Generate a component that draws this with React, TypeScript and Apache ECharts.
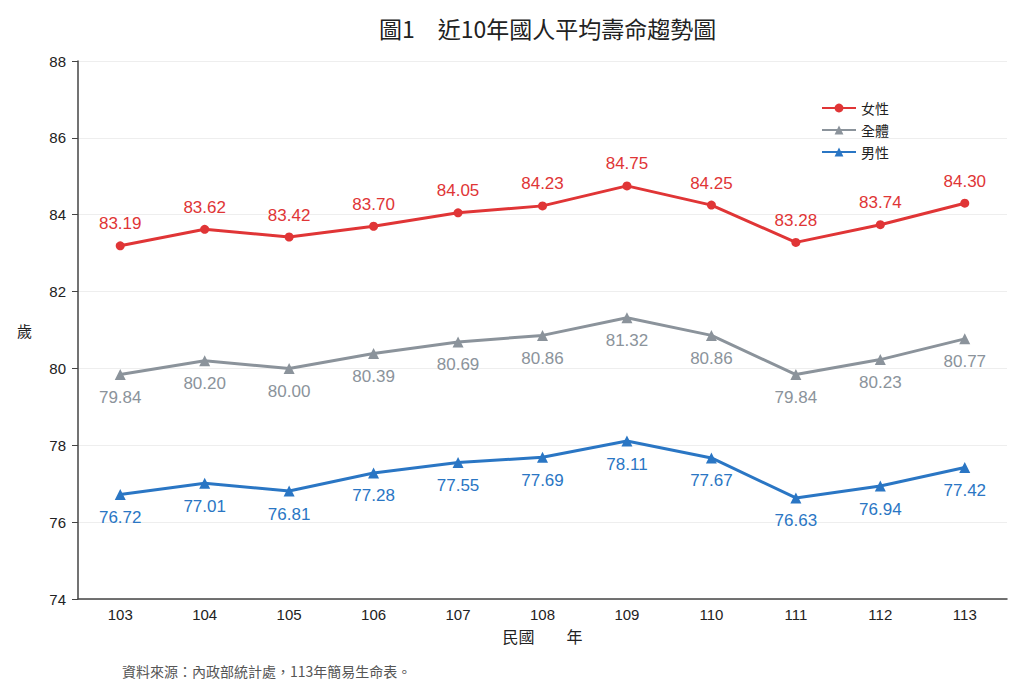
import React, { useEffect, useRef } from 'react'
import * as echarts from 'echarts'

const years = ['103', '104', '105', '106', '107', '108', '109', '110', '111', '112', '113']
const female = [83.19, 83.62, 83.42, 83.70, 84.05, 84.23, 84.75, 84.25, 83.28, 83.74, 84.30]
const overall = [79.84, 80.20, 80.00, 80.39, 80.69, 80.86, 81.32, 80.86, 79.84, 80.23, 80.77]
const male = [76.72, 77.01, 76.81, 77.28, 77.55, 77.69, 78.11, 77.67, 76.63, 76.94, 77.42]

const FONT = '"Liberation Sans", "Noto Sans CJK TC", sans-serif'
const CJK = '"Noto Sans CJK TC", sans-serif'

const RED = '#e03536'
const GRAY = '#8b939b'
const BLUE = '#2a76c4'

const App = () => {
  const chartRef = useRef<HTMLDivElement>(null)

  useEffect(() => {
    if (!chartRef.current) return
    const chart = echarts.init(chartRef.current, null, { renderer: 'svg' })

    const mkSeries = (name: string, data: number[], color: string, symbol: string, pos: string) => ({
      name,
      type: 'line',
      data,
      symbol,
      symbolSize: symbol === 'circle' ? 9 : 11,
      lineStyle: { color, width: 3 },
      itemStyle: { color },
      label: {
        show: true,
        position: pos,
        distance: 9,
        color,
        fontSize: 17,
        fontFamily: FONT,
        formatter: (p: any) => p.value.toFixed(2),
      },
    })

    chart.setOption({
      animation: false,
      title: {
        text: '圖1　近10年國人平均壽命趨勢圖',
        left: 374,
        top: 11,
        textStyle: { fontSize: 23, fontWeight: 'normal', color: '#222', fontFamily: CJK },
      },
      legend: {
        orient: 'vertical',
        left: 816,
        top: 96,
        itemWidth: 34,
        itemHeight: 11,
        itemGap: 8,
        textStyle: { fontSize: 14, color: '#222', fontFamily: CJK },
        data: ['女性', '全體', '男性'],
      },
      grid: { left: 78, right: 17, top: 61, bottom: 91 },
      xAxis: {
        type: 'category',
        data: years,
        name: '民國　　年',
        nameLocation: 'middle',
        nameGap: 29,
        nameTextStyle: { fontSize: 16, color: '#222', fontFamily: CJK },
        axisLine: { lineStyle: { color: '#444', width: 1.5 } },
        axisTick: { alignWithLabel: true, length: 6, lineStyle: { color: '#444' } },
        axisLabel: { fontSize: 15, color: '#222', fontFamily: FONT, margin: 8 },
      },
      yAxis: {
        type: 'value',
        min: 74,
        max: 88,
        interval: 2,
        name: '歲',
        nameLocation: 'middle',
        nameRotate: 0,
        nameGap: 46,
        nameTextStyle: { fontSize: 15, color: '#222', fontFamily: CJK, padding: [0, 0, 16, 0] },
        axisLine: { show: true, lineStyle: { color: '#444', width: 1.5 } },
        axisTick: { show: true, length: 6, lineStyle: { color: '#444' } },
        axisLabel: { fontSize: 15, color: '#222', fontFamily: FONT, margin: 12 },
        splitLine: { lineStyle: { color: '#eeeeee' } },
      },
      graphic: [
        {
          type: 'text',
          left: 122,
          top: 664,
          style: { text: '資料來源：內政部統計處，113年簡易生命表。', fontSize: 14, fill: '#555', fontFamily: CJK },
        },
      ],
      series: [
        mkSeries('女性', female, RED, 'circle', 'top'),
        mkSeries('全體', overall, GRAY, 'triangle', 'bottom'),
        mkSeries('男性', male, BLUE, 'triangle', 'bottom'),
      ],
    })

    return () => {
      chart.dispose()
    }
  }, [])

  return <div ref={chartRef} style={{ width: '1024px', height: '690px', margin: '-8px' }} />
}

export default App
